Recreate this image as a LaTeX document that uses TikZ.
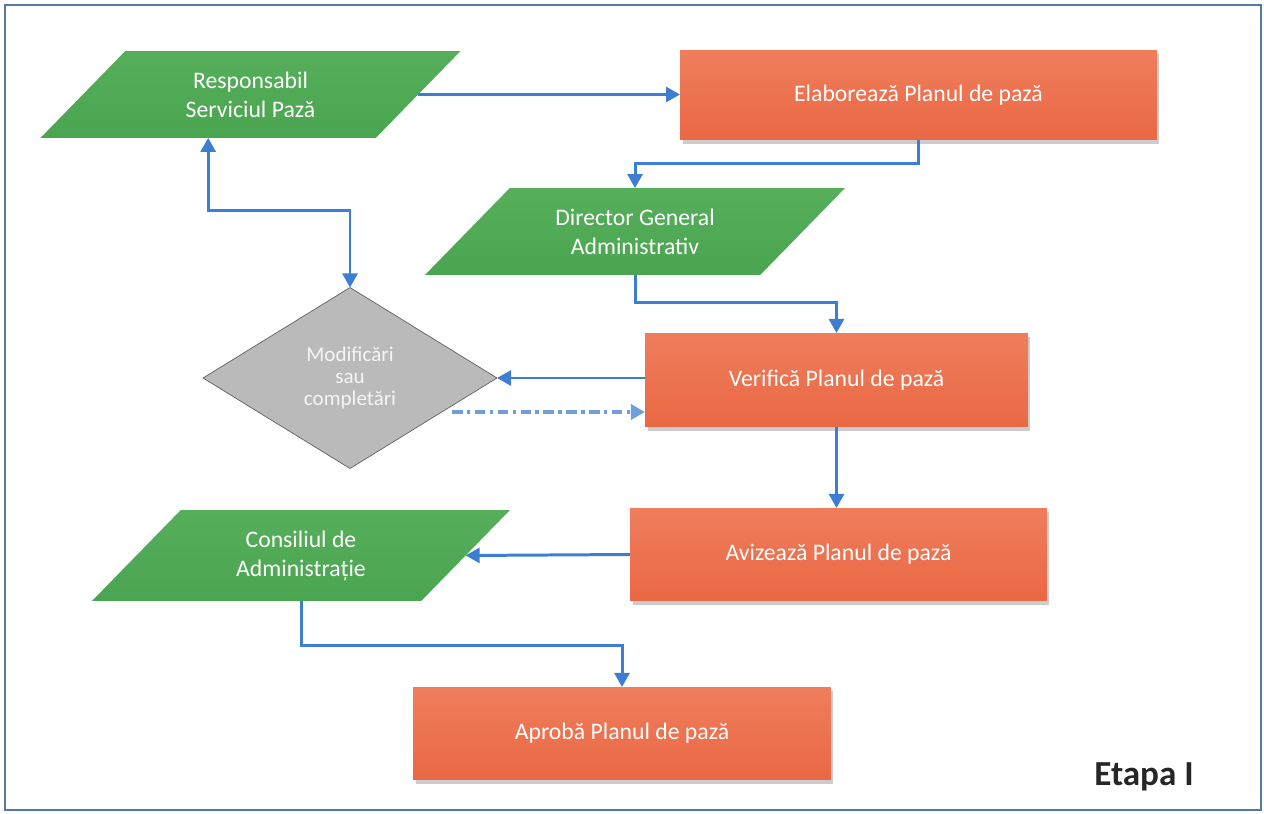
\documentclass[tikz,border=0pt]{standalone}
\usepackage{fontspec}
\setmainfont{Carlito}
\usetikzlibrary{arrows.meta,shapes.geometric,shadows,calc}

\definecolor{taskred}{HTML}{EA6844}
\definecolor{taskredtop}{HTML}{EF7D5C}
\definecolor{actorgreen}{HTML}{4AA550}
\definecolor{actorgreentop}{HTML}{56AE5B}
\definecolor{choicegray}{HTML}{BABABA}
\definecolor{flowblue}{HTML}{3E7ED2}
\definecolor{frameblue}{HTML}{5478A6}

\begin{document}
\begin{tikzpicture}[x=0.02cm, y=-0.02cm,
    task/.style={rectangle, top color=taskredtop, bottom color=taskred,
        drop shadow={shadow xshift=0.05cm, shadow yshift=-0.08cm, opacity=0.4},
        text=white, font=\fontsize{13.5}{16.5}\selectfont, inner sep=0pt, outer sep=0pt},
    actor/.style={trapezium, trapezium left angle=45.7, trapezium right angle=134.3,
        trapezium stretches body=true, top color=actorgreentop, bottom color=actorgreen,
        text=white, align=center, font=\fontsize{13.5}{16.5}\selectfont,
        inner xsep=0pt, inner ysep=11.7pt, outer sep=0pt},
    choice/.style={diamond, draw=gray!75!black, fill=choicegray, line width=0.4pt,
        minimum width=5.88cm, minimum height=3.62cm, text=gray!8, align=center,
        font=\fontsize{12}{12.5}\selectfont, inner sep=0pt, outer sep=0pt},
    flow/.style={draw=flowblue, line width=1.7pt},
    backflow/.style={draw=flowblue!75, line width=1.8pt,
        dash pattern=on 6pt off 2.5pt on 2pt off 2.5pt},
    >={Triangle[length=8pt,width=8.5pt]}]

    \useasboundingbox (0,0) rectangle (1264,814);
    \draw[frameblue, line width=1.6pt] (5,5) rectangle (1261,810);

    % who does it (green)
    \node[actor, minimum width=8.4cm] (R) at (250.5,94.5) {Responsabil\\Serviciul Pază};
    \node[actor, minimum width=8.4cm] (D) at (635,231.5) {Director General\\Administrativ};
    \node[actor, minimum width=8.36cm] (C) at (301,555.5) {Consiliul de\\Administrație};

    % what is done (red)
    \node[task, minimum width=9.54cm, minimum height=1.8cm] (E) at (918.5,95) {Elaborează Planul de pază};
    \node[task, minimum width=7.66cm, minimum height=1.88cm] (V) at (836.5,380) {Verifică Planul de pază};
    \node[task, minimum width=8.34cm, minimum height=1.86cm] (A) at (838.5,554.5) {Avizează Planul de pază};
    \node[task, minimum width=8.36cm, minimum height=1.86cm] (P) at (622,733.5) {Aprobă Planul de pază};

    % decision
    \node[choice] (M) at (350,378) {Modificări\\sau\\completări};

    \node[font=\bfseries\fontsize{20}{24}\selectfont, text=black!85] (T) at (1144,777) {Etapa I};

    % connectors
    \coordinate (Rr) at ($(R.top right corner)!0.5!(R.bottom right corner)$);
    \coordinate (Rb) at ($(R.bottom left corner)!0.5!(R.bottom right corner)$);
    \coordinate (Cr) at ($(C.top right corner)!0.5!(C.bottom right corner)$);
    \draw[flow,->] (Rr) -- (Rr -| E.west);
    \draw[flow,->] (E.south) -- ++(0,24) -| (D.north);
    \draw[flow,->] (D.south) -- ++(0,28) -| (V.north);
    \draw[flow,->] (V.west |- M.east) -- (M.east);
    \coordinate (B) at (452,412);
    \draw[backflow,->] (B) -- (B -| V.west);
    \draw[flow,<->] (Rb) -- ++(0,73) -| (M.north);
    \draw[flow,->] (V.south) -- (V.south |- A.north);
    \draw[flow,->] (A.west) -- (Cr);
    \draw[flow,->] (C.south) -- ++(0,45) -| (P.north);

\end{tikzpicture}
\end{document}
